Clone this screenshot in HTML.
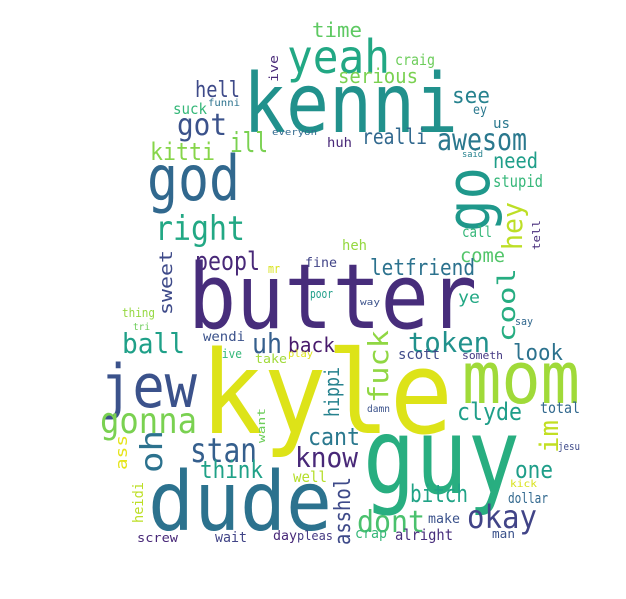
<!DOCTYPE html>
<html><head><meta charset="utf-8"><style>
html,body{margin:0;padding:0;background:#fff;width:626px;height:599px;overflow:hidden}
svg text{font-family:"DejaVu Sans Mono","Liberation Mono",monospace}
</style></head><body>
<svg id="cloud" width="626" height="599" viewBox="0 0 626 599" xmlns="http://www.w3.org/2000/svg"></svg>
<script>
// word, x0, x1 (or y0,y1 for vertical), baseline, size, color, vertical
const words = [
["time",312,362,37,20,"#5ec962",0],["yeah",287,390,73,46,"#22a884",0],["craig",395,435,65,15,"#6ccd5a",0],
["ive",55,82,278,12,"#482878",1],["serious",338,418,83,20,"#7ad151",0],["kenni",243,458,132,82,"#21918c",0],
["hell",195,240,97,22,"#3e4a89",0],["funni",208,240,106,10,"#2c728e",0],["suck",173,207,114,15,"#35b779",0],
["see",452,490,103,22,"#26828e",0],["ey",473,487,114,13,"#2a788e",0],["us",493,510,128,14,"#2a788e",0],
["got",177,227,135,30,"#3b528b",0],["everyon",272,317,135,9,"#31688e",0],["huh",327,352,147,13,"#482878",0],
["realli",362,427,144,21,"#31688e",0],["awesom",437,527,150,30,"#2a788e",0],["ill",230,268,152,28,"#7ad151",0],
["kitti",150,215,160,24,"#86d549",0],["said",462,483,157,9,"#26828e",0],["need",493,538,168,21,"#1f9e89",0],
["stupid",493,543,187,17,"#35b779",0],["god",147,240,200,62,"#31688e",0],["go",167,232,489,60,"#1f988b",1],
["hey",202,250,522,28,"#bddf26",1],["tell",220,250,540,11,"#472d7b",1],["right",155,245,240,34,"#22a884",0],
["call",462,492,237,15,"#35b779",0],["heh",342,367,250,14,"#95d840",0],["come",460,505,262,19,"#52c569",0],
["peopl",195,260,270,26,"#482878",0],["fine",305,337,267,13,"#414487",0],["mr",268,280,273,12,"#d8e219",0],
["letfriend",370,475,275,22,"#2c728e",0],["sweet",250,315,172,18,"#3e4a89",1],["butter",188,477,328,90,"#472d7b",0],
["cool",268,342,515,24,"#26ad81",1],["thing",122,155,317,12,"#95d840",0],["tri",133,150,330,10,"#6ccd5a",0],
["poor",310,333,298,12,"#1f9e89",0],["way",360,380,305,9,"#3b528b",0],["ye",458,480,303,17,"#22a884",0],
["say",515,533,325,11,"#31688e",0],["ball",122,185,353,28,"#1fa088",0],["uh",252,282,353,28,"#355f8d",0],
["wendi",203,245,341,13,"#3b528b",0],["back",288,335,352,20,"#481a6c",0],["fuck",330,403,388,28,"#90d743",1],
["token",408,490,352,28,"#21918c",0],["look",513,563,360,22,"#2c728e",0],["give",215,242,358,12,"#35b779",0],
["take",255,287,363,12,"#a0da39",0],["play",288,313,357,10,"#dde318",0],["scott",398,440,359,14,"#3e4a89",0],
["someth",462,503,359,11,"#443983",0],["jew",100,197,407,60,"#3b528b",0],["kyle",200,453,433,115,"#dde318",0],
["mom",462,580,403,72,"#a0da39",0],["hippi",367,417,339,20,"#26828e",1],["damn",367,390,412,10,"#3b528b",0],
["total",540,580,413,15,"#31688e",0],["clyde",457,522,420,24,"#1f9e89",0],["gonna",100,197,433,36,"#7ad151",0],
["want",408,443,265,11,"#6ccd5a",1],["im",420,453,558,26,"#c2df23",1],["jesu",558,580,450,11,"#3e4a89",0],
["ass",435,470,127,16,"#e5e419",1],["oh",430,473,162,30,"#2c728e",1],["cant",308,360,445,24,"#2a788e",0],
["stan",190,257,462,34,"#355f8d",0],["know",295,358,467,28,"#482878",0],["guy",363,520,493,105,"#28ae80",0],
["think",200,263,478,24,"#1fa187",0],["one",515,553,478,24,"#1f9e89",0],["well",293,327,482,15,"#b5de2b",0],
["kick",510,537,487,10,"#d8e219",0],["bitch",410,468,502,24,"#20a386",0],["heidi",482,523,143,14,"#bddf26",1],
["dude",148,332,530,82,"#2c728e",0],["asshol",477,545,350,22,"#3e4a89",1],["dont",357,425,532,30,"#4ac16d",0],
["okay",467,537,528,32,"#414487",0],["dollar",508,548,503,14,"#31688e",0],["make",428,460,523,13,"#3b528b",0],
["screw",137,178,542,12,"#482878",0],["wait",215,247,542,14,"#414487",0],["day",273,297,540,13,"#482878",0],
["pleas",297,333,540,12,"#443983",0],["crap",355,387,538,14,"#35b779",0],["alright",395,453,540,15,"#472d7b",0],
["man",492,515,538,12,"#3b528b",0]
];
const svg=document.getElementById('cloud');
const NS="http://www.w3.org/2000/svg";
for(const w of words){
  const t=document.createElementNS(NS,'text');
  
  
  t.setAttribute('font-size',w[4]);
  t.setAttribute('fill',w[5]);
  t.setAttribute('textLength',w[2]-w[1]);
  t.setAttribute('lengthAdjust','spacingAndGlyphs');
  if(w[6]){
    t.setAttribute('x',w[3]);t.setAttribute('y',w[2]);
    t.setAttribute('transform','rotate(-90 '+w[3]+' '+w[2]+')');
    t.setAttribute('x',w[3]);
  }else{
    t.setAttribute('x',w[1]);t.setAttribute('y',w[3]);
  }
  t.textContent=w[0];
  svg.appendChild(t);
}
</script>
</body></html>
